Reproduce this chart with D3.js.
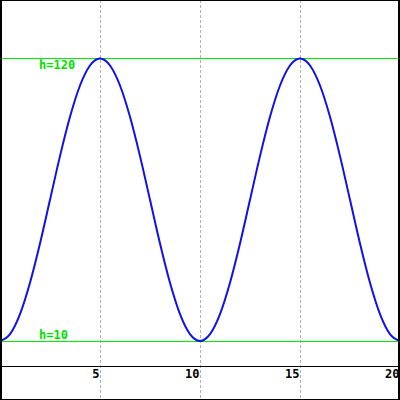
<!DOCTYPE html>
<html><head><meta charset="utf-8">
<script src="https://cdn.jsdelivr.net/npm/d3@7"></script>
<style>body{margin:0;background:#fff}svg{display:block}</style>
</head><body>
<script>
const xValues = [0,0.5,1,1.5,2,2.5,3,3.5,4,4.5,5,5.5,6,6.5,7,7.5,8,8.5,9,9.5,10,
  10.5,11,11.5,12,12.5,13,13.5,14,14.5,15,15.5,16,16.5,17,17.5,18,18.5,19,19.5,20];
const hValues = [10,12.7,20.5,32.7,48,65,82,97.3,109.5,117.3,120,117.3,109.5,97.3,82,65,48,32.7,20.5,12.7,10,
  12.7,20.5,32.7,48,65,82,97.3,109.5,117.3,120,117.3,109.5,97.3,82,65,48,32.7,20.5,12.7,10];
const xTicks = [5,10,15,20];
const refLevels = [120,10];
const refLabels = ["h=120","h=10"];

const W=400,H=400;
const svg=d3.select("body").append("svg").attr("width",W).attr("height",H);
const x=d3.scaleLinear().domain([0,20]).range([0,400]);
const y=d3.scaleLinear().domain([0,142.8]).range([366.7,0]);

// grid
svg.selectAll("line.grid").data(xTicks.filter(d=>d<20)).join("line")
  .attr("x1",d=>x(d)+0.5).attr("x2",d=>x(d)+0.5).attr("y1",0).attr("y2",H)
  .attr("stroke","#b0b0b0").attr("stroke-width",1).attr("stroke-dasharray","3,2")
  .attr("shape-rendering","crispEdges");

// reference lines
svg.selectAll("line.ref").data(refLevels).join("line")
  .attr("x1",0).attr("x2",W).attr("y1",d=>Math.floor(y(d))+0.5).attr("y2",d=>Math.floor(y(d))+0.5)
  .attr("stroke","#00ee00").attr("stroke-width",1).attr("shape-rendering","crispEdges");
svg.selectAll("text.ref").data(refLevels).join("text")
  .attr("x",39).attr("y",(d,i)=>i===0?Math.floor(y(d))+11:Math.floor(y(d))-2)
  .attr("fill","#00e000").attr("font-family","DejaVu Sans Mono").attr("font-weight","bold")
  .attr("font-size","12px").text((d,i)=>refLabels[i]);

// x axis line
svg.append("line").attr("x1",0).attr("x2",W).attr("y1",Math.floor(y(0))+0.5).attr("y2",Math.floor(y(0))+0.5)
  .attr("stroke","#000").attr("stroke-width",1).attr("shape-rendering","crispEdges");

// tick labels
svg.selectAll("text.tick").data(xTicks).join("text")
  .attr("x",d=>x(d)-0.5).attr("y",378).attr("text-anchor","end")
  .attr("font-family","DejaVu Sans Mono").attr("font-weight","bold").attr("font-size","12px")
  .attr("fill","#000").text(d=>d);

// curve
const line=d3.line().x((d,i)=>x(xValues[i])).y(d=>y(d)).curve(d3.curveMonotoneX);
svg.append("path").datum(hValues).attr("d",line).attr("fill","none")
  .attr("stroke","#1010ee").attr("stroke-width",2);

// border
svg.append("rect").attr("x",0.5).attr("y",0.5).attr("width",W-1).attr("height",H-1)
  .attr("fill","none").attr("stroke","#000").attr("stroke-width",1).attr("shape-rendering","crispEdges");
svg.append("line").attr("x1",1.5).attr("x2",1.5).attr("y1",0).attr("y2",H).attr("stroke","#000").attr("shape-rendering","crispEdges");
svg.append("line").attr("x1",398.5).attr("x2",398.5).attr("y1",0).attr("y2",H).attr("stroke","#000").attr("shape-rendering","crispEdges");
</script>
</body></html>
